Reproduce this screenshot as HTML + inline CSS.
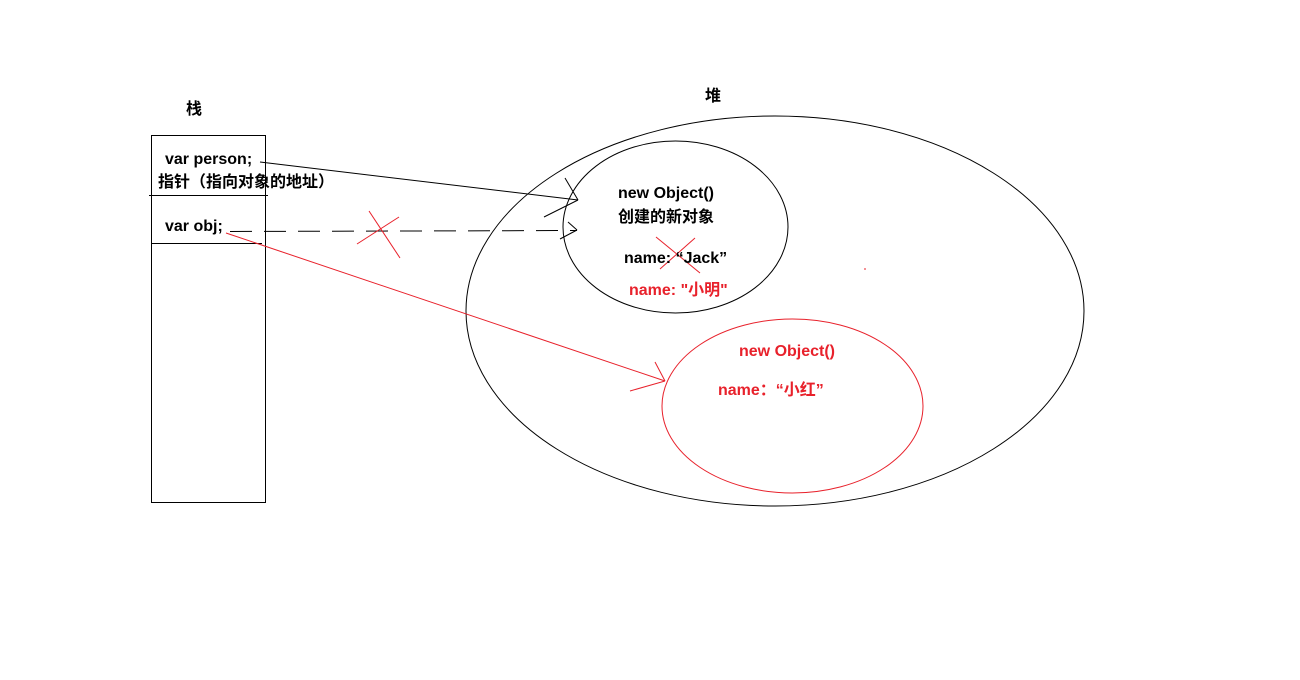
<!DOCTYPE html>
<html><head><meta charset="utf-8"><style>
html,body{margin:0;padding:0;background:#fff;}
svg{display:block;}
text{font-family:"Liberation Sans","Noto Sans CJK SC",sans-serif;font-weight:bold;font-size:16px;}
</style></head><body>
<svg width="1300" height="680" viewBox="0 0 1300 680" xmlns="http://www.w3.org/2000/svg">
<g fill="none" stroke="#000" stroke-width="1">
<rect x="151.5" y="135.5" width="114" height="367"/>
<line x1="149" y1="195.5" x2="268" y2="195.5"/>
<line x1="151" y1="243.5" x2="262" y2="243.5"/>
<ellipse cx="775" cy="311" rx="309" ry="195"/>
<ellipse cx="675.5" cy="227" rx="112.5" ry="86"/>
<line x1="260" y1="162" x2="578" y2="200"/>
<line x1="565" y1="178" x2="578" y2="200"/>
<line x1="544" y1="217" x2="578" y2="200"/>
<line x1="230" y1="231.5" x2="577" y2="230.5" stroke-dasharray="22,12"/>
<line x1="568" y1="222" x2="577" y2="230"/>
<line x1="560" y1="239" x2="577" y2="230"/>
</g>
<g fill="none" stroke="#e8212b" stroke-width="1">
<ellipse cx="792.5" cy="406" rx="130.5" ry="87"/>
<line x1="226" y1="233" x2="665" y2="381"/>
<line x1="655" y1="362" x2="665" y2="381"/>
<line x1="630" y1="391" x2="665" y2="381"/>
<line x1="369" y1="211" x2="400" y2="258"/>
<line x1="357" y1="244" x2="399" y2="217"/>
<line x1="656" y1="237" x2="700" y2="273"/>
<line x1="660" y1="269" x2="695" y2="238"/>
<line x1="864" y1="269" x2="866" y2="269"/>
</g>
<text x="186" y="114" font-size="14">栈</text>
<text x="705" y="101" font-size="14">堆</text>
<text x="165" y="164">var person;</text>
<text x="158" y="187" font-size="15">指针（指向对象的地址）</text>
<text x="165" y="231">var obj;</text>
<text x="618" y="198">new Object()</text>
<text x="618" y="222" font-size="15">创建的新对象</text>
<text x="624" y="263">name: “Jack”</text>
<text x="629" y="295" fill="#e8212b">name: "小明"</text>
<text x="739" y="356" fill="#e8212b">new Object()</text>
<text x="718" y="395" fill="#e8212b">name：“小红”</text>
</svg>
</body></html>
